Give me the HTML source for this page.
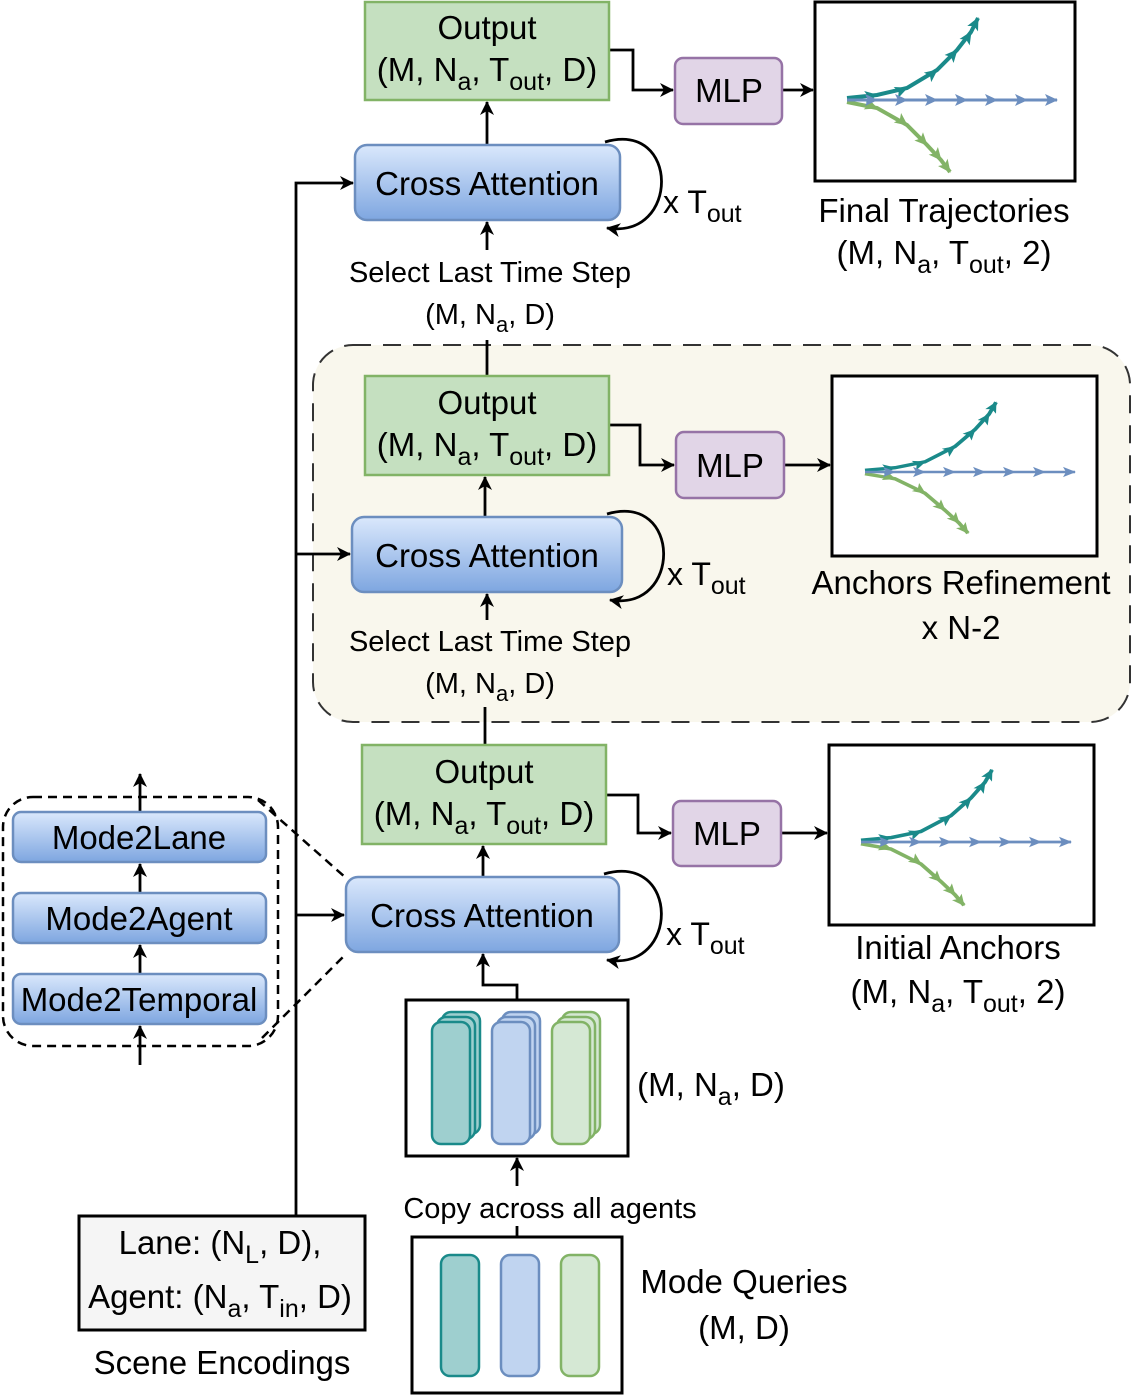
<!DOCTYPE html>
<html><head><meta charset="utf-8"><style>
html,body{margin:0;padding:0;background:#fff;}
svg{display:block;font-family:"Liberation Sans",Arial,sans-serif;}
</style></head><body>
<svg width="1140" height="1395" viewBox="0 0 1140 1395" xmlns="http://www.w3.org/2000/svg">
<defs>
<linearGradient id="bg" x1="0" y1="0" x2="0" y2="1"><stop offset="0" stop-color="#dae8fc"/><stop offset="1" stop-color="#7ea6e0"/></linearGradient>
<marker id="ah" markerWidth="14" markerHeight="14" refX="13" refY="7" orient="auto" markerUnits="userSpaceOnUse"><path d="M0,0 L14,7 L0,14 L4,7 Z" fill="#000"/></marker>
<marker id="ab" markerWidth="14" markerHeight="14" refX="12" refY="7" orient="auto" markerUnits="userSpaceOnUse"><path d="M0,1 L13,7 L0,13 L3,7 Z" fill="#6c8ebf"/></marker>
<marker id="at" markerWidth="14" markerHeight="14" refX="12" refY="7" orient="auto" markerUnits="userSpaceOnUse"><path d="M0,1 L13,7 L0,13 L3,7 Z" fill="#1a8a8a"/></marker>
<marker id="ag" markerWidth="14" markerHeight="14" refX="12" refY="7" orient="auto" markerUnits="userSpaceOnUse"><path d="M0,1 L13,7 L0,13 L3,7 Z" fill="#82b366"/></marker>
<g id="traj">
<polyline points="0,-2 30,-5 60,-12 90,-30 110,-50 124,-68 131,-82" fill="none" stroke="#1a8a8a" stroke-width="4" marker-mid="url(#at)" marker-end="url(#at)"/>
<polyline points="0,2 30,8 60,25 80,45 94,60 103,72" fill="none" stroke="#82b366" stroke-width="4" marker-mid="url(#ag)" marker-end="url(#ag)"/>
<polyline points="0,0 30,0 60,0 90,0 120,0 150,0 180,0 210,0" fill="none" stroke="#6c8ebf" stroke-width="3" marker-mid="url(#ab)" marker-end="url(#ab)"/>
</g>
</defs>

<rect x="313" y="345" width="817" height="377" rx="40" fill="#f9f7ed" stroke="#333" stroke-width="2" stroke-dasharray="18,12"/>

<g stroke="#000" stroke-width="2.8" fill="none">
<polyline points="296,1216 296,183 353,183" marker-end="url(#ah)"/>
<line x1="296" y1="554" x2="350" y2="554" marker-end="url(#ah)"/>
<line x1="487" y1="145" x2="487" y2="102" marker-end="url(#ah)"/>
<polyline points="609,50 633,50 633,90 673,90" marker-end="url(#ah)"/>
<line x1="782" y1="90" x2="813" y2="90" marker-end="url(#ah)"/>
<line x1="487" y1="250" x2="487" y2="222" marker-end="url(#ah)"/>
<line x1="487" y1="340" x2="487" y2="376"/>
<path d="M605,142 C680,120 680,240 607,228" marker-end="url(#ah)"/>
<line x1="485" y1="517" x2="485" y2="477" marker-end="url(#ah)"/>
<polyline points="609,425 640,425 640,465 674,465" marker-end="url(#ah)"/>
<line x1="784" y1="465" x2="830" y2="465" marker-end="url(#ah)"/>
<line x1="487" y1="620" x2="487" y2="594" marker-end="url(#ah)"/>
<line x1="485" y1="707" x2="485" y2="745"/>
<path d="M607,514 C682,492 682,612 610,600" marker-end="url(#ah)"/>
<line x1="483" y1="877" x2="483" y2="846" marker-end="url(#ah)"/>
<polyline points="606,795 638,795 638,833 671,833" marker-end="url(#ah)"/>
<line x1="781" y1="833" x2="827" y2="833" marker-end="url(#ah)"/>
<path d="M604,874 C680,852 680,972 607,960" marker-end="url(#ah)"/>
<polyline points="517,1000 517,985 483,985 483,954" marker-end="url(#ah)"/>
<line x1="517" y1="1186" x2="517" y2="1158" marker-end="url(#ah)"/>
<line x1="517" y1="1226" x2="517" y2="1237"/>
<line x1="296" y1="915" x2="344" y2="915" marker-end="url(#ah)"/>
<line x1="140" y1="1065" x2="140" y2="1026" marker-end="url(#ah)"/>
<line x1="140" y1="974" x2="140" y2="945" marker-end="url(#ah)"/>
<line x1="140" y1="893" x2="140" y2="864" marker-end="url(#ah)"/>
<line x1="140" y1="812" x2="140" y2="774" marker-end="url(#ah)"/>
</g>
<rect x="3" y="797" width="275" height="249" rx="30" fill="none" stroke="#000" stroke-width="2.5" stroke-dasharray="9,6"/>
<g stroke="#000" stroke-width="2.5" stroke-dasharray="9,6">
<line x1="258" y1="800" x2="346" y2="878"/>
<line x1="262" y1="1038" x2="346" y2="954"/>
</g>

<g stroke="#82b366" stroke-width="2.5" fill="#c5e0c0">
<rect x="365" y="2" width="244" height="98"/>
<rect x="365" y="376" width="244" height="99"/>
<rect x="362" y="745" width="244" height="99"/>
</g>
<g stroke="#9673a6" stroke-width="2.5" fill="#e1d5e7">
<rect x="675" y="58" width="107" height="66" rx="8"/>
<rect x="676" y="432" width="108" height="66" rx="8"/>
<rect x="673" y="801" width="108" height="65" rx="8"/>
</g>
<g stroke="#6c8ebf" stroke-width="2.5" fill="url(#bg)">
<rect x="355" y="145" width="265" height="75" rx="12"/>
<rect x="352" y="517" width="270" height="75" rx="12"/>
<rect x="346" y="877" width="273" height="75" rx="12"/>
<rect x="13" y="812" width="253" height="50" rx="8"/>
<rect x="13" y="893" width="253" height="50" rx="8"/>
<rect x="13" y="974" width="253" height="50" rx="8"/>
</g>
<g stroke="#000" stroke-width="3" fill="#fff">
<rect x="815" y="2" width="260" height="179"/>
<rect x="832" y="376" width="265" height="180"/>
<rect x="829" y="745" width="265" height="180"/>
<rect x="406" y="1000" width="222" height="156"/>
<rect x="412" y="1237" width="210" height="156"/>
<rect x="79" y="1216" width="286" height="114" fill="#f5f5f5"/>
</g>
<use href="#traj" transform="translate(847,100)"/>
<use href="#traj" transform="translate(865,472) scale(1,0.85)"/>
<use href="#traj" transform="translate(861,842) scale(1,0.88)"/>

<g stroke-width="2.5">
<g fill="#9ecfcf" stroke="#1a8a8a"><rect x="442" y="1012" width="38" height="122" rx="9"/><rect x="437" y="1017" width="38" height="122" rx="9"/><rect x="432" y="1022" width="38" height="122" rx="9"/></g>
<g fill="#c0d4f0" stroke="#6c8ebf"><rect x="502" y="1012" width="38" height="122" rx="9"/><rect x="497" y="1017" width="38" height="122" rx="9"/><rect x="492" y="1022" width="38" height="122" rx="9"/></g>
<g fill="#d5e8d4" stroke="#82b366"><rect x="562" y="1012" width="38" height="122" rx="9"/><rect x="557" y="1017" width="38" height="122" rx="9"/><rect x="552" y="1022" width="38" height="122" rx="9"/></g>
<rect x="441" y="1255" width="38" height="121" rx="9" fill="#9ecfcf" stroke="#1a8a8a"/>
<rect x="501" y="1255" width="38" height="121" rx="9" fill="#c0d4f0" stroke="#6c8ebf"/>
<rect x="561" y="1255" width="38" height="121" rx="9" fill="#d5e8d4" stroke="#82b366"/>
</g>

<g font-size="33" fill="#000" text-anchor="middle">
<text x="487" y="39">Output</text>
<text x="487" y="81">(M, N<tspan dy="9" font-size="25">a</tspan><tspan dy="-9">, T</tspan><tspan dy="9" font-size="25">out</tspan><tspan dy="-9">, D)</tspan></text>
<text x="487" y="414">Output</text>
<text x="487" y="456">(M, N<tspan dy="9" font-size="25">a</tspan><tspan dy="-9">, T</tspan><tspan dy="9" font-size="25">out</tspan><tspan dy="-9">, D)</tspan></text>
<text x="484" y="783">Output</text>
<text x="484" y="825">(M, N<tspan dy="9" font-size="25">a</tspan><tspan dy="-9">, T</tspan><tspan dy="9" font-size="25">out</tspan><tspan dy="-9">, D)</tspan></text>
<text x="729" y="102">MLP</text>
<text x="730" y="477">MLP</text>
<text x="727" y="845">MLP</text>
<text x="487" y="195">Cross Attention</text>
<text x="487" y="567">Cross Attention</text>
<text x="482" y="927">Cross Attention</text>
<text x="139" y="849">Mode2Lane</text>
<text x="139" y="930">Mode2Agent</text>
<text x="139" y="1011">Mode2Temporal</text>
<text x="944" y="222">Final Trajectories</text>
<text x="944" y="264">(M, N<tspan dy="9" font-size="25">a</tspan><tspan dy="-9">, T</tspan><tspan dy="9" font-size="25">out</tspan><tspan dy="-9">, 2)</tspan></text>
<text x="961" y="594">Anchors Refinement</text>
<text x="961" y="639">x N-2</text>
<text x="958" y="959">Initial Anchors</text>
<text x="958" y="1003">(M, N<tspan dy="9" font-size="25">a</tspan><tspan dy="-9">, T</tspan><tspan dy="9" font-size="25">out</tspan><tspan dy="-9">, 2)</tspan></text>
<text x="711" y="1096">(M, N<tspan dy="9" font-size="25">a</tspan><tspan dy="-9">, D)</tspan></text>
<text x="744" y="1293">Mode Queries</text>
<text x="744" y="1339">(M, D)</text>
<text x="220" y="1254">Lane: (N<tspan dy="9" font-size="25">L</tspan><tspan dy="-9">, D),</tspan></text>
<text x="220" y="1308">Agent: (N<tspan dy="9" font-size="25">a</tspan><tspan dy="-9">, T</tspan><tspan dy="9" font-size="25">in</tspan><tspan dy="-9">, D)</tspan></text>
<text x="222" y="1374">Scene Encodings</text>
</g>
<g font-size="29" fill="#000" text-anchor="middle">
<text x="490" y="282">Select Last Time Step</text>
<text x="490" y="324">(M, N<tspan dy="8" font-size="22">a</tspan><tspan dy="-8">, D)</tspan></text>
<text x="490" y="651">Select Last Time Step</text>
<text x="490" y="693">(M, N<tspan dy="8" font-size="22">a</tspan><tspan dy="-8">, D)</tspan></text>
<text x="550" y="1218">Copy across all agents</text>
</g>
<g font-size="32" fill="#000">
<text x="663" y="213">x T<tspan dy="9" font-size="25">out</tspan></text>
<text x="667" y="585">x T<tspan dy="9" font-size="25">out</tspan></text>
<text x="666" y="945">x T<tspan dy="9" font-size="25">out</tspan></text>
</g>
</svg>
</body></html>
